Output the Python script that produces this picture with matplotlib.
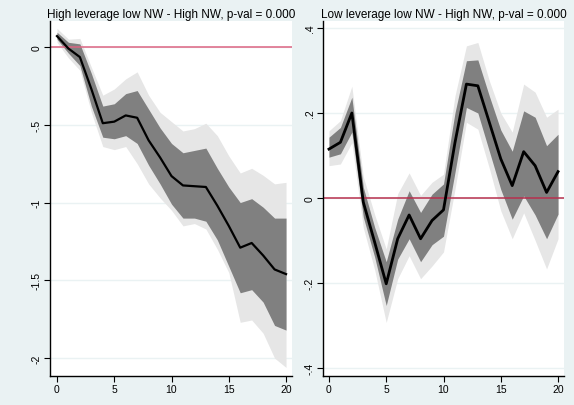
import numpy as np
import matplotlib
matplotlib.use('Agg')
import matplotlib.pyplot as plt

plt.rcParams['font.family'] = ['Liberation Sans', 'DejaVu Sans']

horizon = list(range(21))

# high leverage low NW vs high NW
est_l = [0.07, -0.01, -0.065, -0.27, -0.49, -0.48, -0.44, -0.455, -0.60, -0.71, -0.83,
         -0.89, -0.895, -0.90, -1.02, -1.15, -1.29, -1.26, -1.34, -1.43, -1.46]
hi68_l = [0.095, 0.03, 0.02, -0.17, -0.38, -0.365, -0.30, -0.28, -0.40, -0.52, -0.62,
          -0.68, -0.665, -0.65, -0.78, -0.90, -1.00, -0.975, -1.03, -1.10, -1.10]
lo68_l = [0.05, -0.04, -0.12, -0.38, -0.58, -0.59, -0.57, -0.62, -0.76, -0.88, -1.01,
          -1.10, -1.10, -1.12, -1.24, -1.41, -1.58, -1.56, -1.64, -1.79, -1.82]
hi95_l = [0.12, 0.05, 0.055, -0.13, -0.31, -0.27, -0.205, -0.16, -0.31, -0.42, -0.48,
          -0.54, -0.525, -0.49, -0.57, -0.70, -0.81, -0.78, -0.825, -0.88, -0.87]
lo95_l = [0.03, -0.07, -0.15, -0.42, -0.64, -0.66, -0.64, -0.75, -0.88, -0.97, -1.05,
          -1.15, -1.135, -1.17, -1.30, -1.45, -1.77, -1.755, -1.84, -2.0, -2.06]

# low leverage low NW vs high NW
est_r = [0.115, 0.131, 0.20, -0.01, -0.105, -0.202, -0.096, -0.04, -0.096, -0.053, -0.028,
         0.13, 0.268, 0.264, 0.178, 0.092, 0.029, 0.109, 0.076, 0.013, 0.062]
hi68_r = [0.143, 0.166, 0.237, 0.025, -0.07, -0.15, -0.05, 0.017, -0.034, 0.009, 0.033,
          0.20, 0.323, 0.325, 0.24, 0.16, 0.11, 0.205, 0.19, 0.123, 0.15]
lo68_r = [0.096, 0.104, 0.155, -0.045, -0.14, -0.253, -0.144, -0.096, -0.15, -0.11, -0.09,
          0.06, 0.213, 0.20, 0.11, 0.02, -0.05, 0.005, -0.04, -0.096, -0.038]
hi95_r = [0.158, 0.182, 0.263, 0.05, -0.04, -0.12, 0.01, 0.059, 0.006, 0.037, 0.056,
          0.24, 0.358, 0.366, 0.276, 0.20, 0.155, 0.268, 0.249, 0.19, 0.209]
lo95_r = [0.076, 0.08, 0.13, -0.07, -0.17, -0.293, -0.19, -0.136, -0.19, -0.16, -0.127,
          0.02, 0.178, 0.162, 0.07, -0.03, -0.096, -0.035, -0.10, -0.167, -0.096]

titles = ['High leverage low NW - High NW, p-val = 0.000',
          'Low leverage low NW - High NW, p-val = 0.000']
yticks_l = [0, -0.5, -1, -1.5, -2]
yticks_r = [0.4, 0.2, 0, -0.2, -0.4]
xticks = [0, 5, 10, 15, 20]

bg = '#eaf2f3'
W, H = 574, 406


def stata_fmt(v):
    # stata style: drop the leading zero
    s = ('%g' % v)
    s = s.replace('0.', '.')
    return s


f = plt.figure(figsize=(W / 100, H / 100), dpi=100, facecolor=bg)

panels = [
    (50, 292, 22, 377, (0.167, -2.115), (-0.61, 20.52), est_l, hi68_l, lo68_l, hi95_l, lo95_l,
     yticks_l, '#dc6482', 1.6),
    (323, 564, 22, 377, (0.4165, -0.419), (-0.52, 20.52), est_r, hi68_r, lo68_r, hi95_r, lo95_r,
     yticks_r, '#b8304e', 2.0),
]

for i, (x0, x1, y0, y1, ylim, xlim, est, h68, l68, h95, l95, yt, zc, lw) in enumerate(panels):
    ax = f.add_axes([x0 / W, 1 - y1 / H, (x1 - x0) / W, (y1 - y0) / H])
    ax.set_facecolor('white')
    ax.fill_between(horizon, l95, h95, color='#e6e6e6', lw=0, zorder=1)
    ax.fill_between(horizon, l68, h68, color='#808080', lw=0, zorder=2)
    ax.plot(horizon, est, color='black', lw=lw, zorder=3)
    ax.axhline(0, color=zc, lw=1.1, zorder=2.5)
    ax.set_ylim(min(ylim), max(ylim))
    ax.set_xlim(*xlim)
    ax.set_yticks(yt)
    ax.set_yticklabels([stata_fmt(v) for v in yt], rotation=90, va='center')
    ax.set_xticks(xticks)
    ax.set_xticklabels([str(v) for v in xticks])
    ax.tick_params(labelsize=7.5, length=4, width=0.8, pad=2, color='black')
    ax.grid(axis='y', color=bg, lw=1.0, zorder=0)
    ax.set_axisbelow(True)
    for s in ['top', 'right']:
        ax.spines[s].set_visible(False)
    for s in ['left', 'bottom']:
        ax.spines[s].set_linewidth(1.0)
    ax.set_title(titles[i], fontsize=8.5, pad=3)

f.savefig('out.png', dpi=100, facecolor=bg)
